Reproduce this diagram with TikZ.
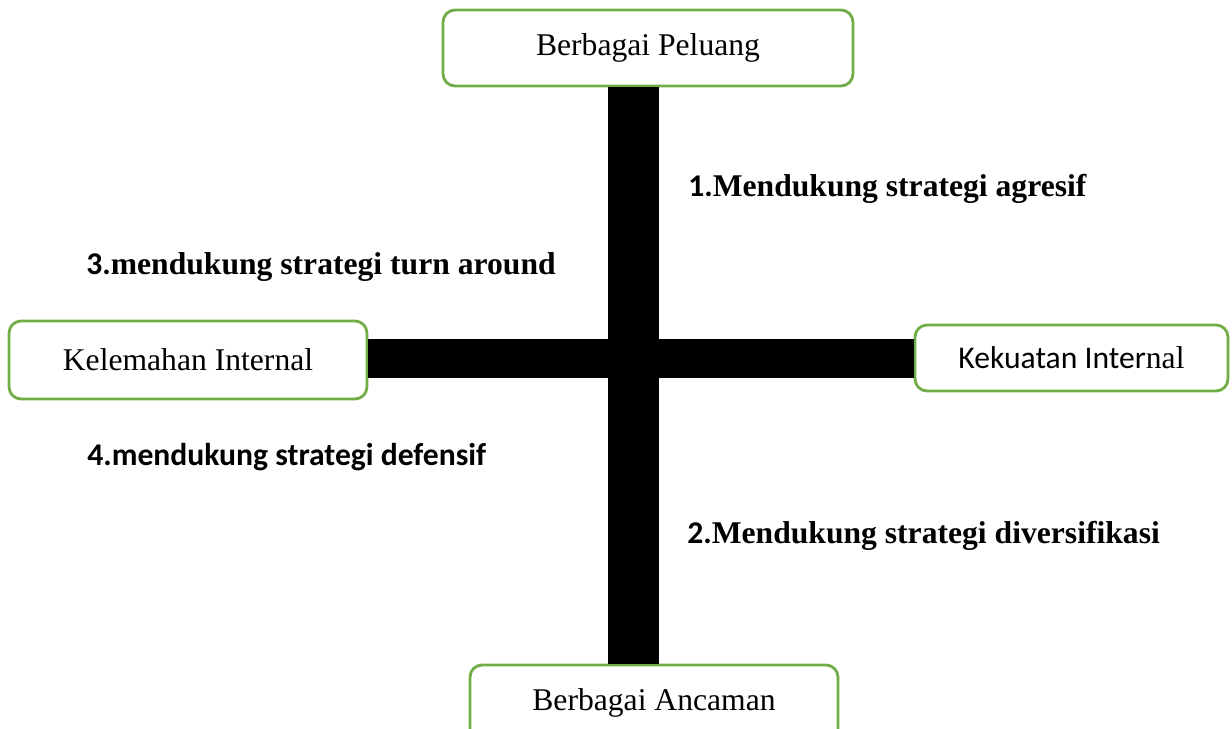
\documentclass[tikz,border=0pt]{standalone}
\usepackage{fontspec}
\setmainfont{Liberation Serif}
\newfontfamily\calibri{Carlito}
\definecolor{boxgreen}{RGB}{112,173,71}

\begin{document}
\begin{tikzpicture}[x=0.02cm,y=-0.02cm,
  box/.style={draw=boxgreen,line width=1.6pt,rounded corners=0.24cm,fill=white,
    inner sep=0pt,font=\fontsize{18}{22}\selectfont},
  lbl/.style={anchor=base west,inner sep=0pt,font=\fontsize{18}{22}\selectfont\bfseries}]
\clip (0,0) rectangle (1232,729);
\useasboundingbox (0,0) rectangle (1232,729);
% the four boxes
\node[box,minimum width=8.2cm,minimum height=1.52cm] (peluang) at (648,48) {Berbagai Peluang};
\node[box,minimum width=7.16cm,minimum height=1.56cm] (lemah) at (188,360) {Kelemahan Internal};
\node[box,minimum width=6.26cm,minimum height=1.32cm] (kuat) at (1071.5,358) {{\calibri Kekuatan Inter}nal};
\node[box,minimum width=7.36cm,minimum height=1.52cm] (ancaman) at (654,703) {Berbagai Ancaman};
% the cross
\coordinate (pusat) at (633.5,358.5);
\draw[line width=1.02cm] (pusat |- peluang.south) -- (pusat |- ancaman.north);
\draw[line width=0.78cm] (lemah.east |- pusat) -- (kuat.west |- pusat);
% quadrant labels
\node[lbl] (agresif) at (688,197) {{\calibri 1.}Mendukung strategi agresif};
\node[lbl] (turn) at (86,275) {{\calibri 3.}mendukung strategi turn around};
\node[lbl] (defensif) at (87,466) {\calibri 4.mendukung strategi defensif};
\node[lbl] (diversi) at (687,544) {{\calibri 2.}Mendukung strategi diversifikasi};
\end{tikzpicture}
\end{document}
